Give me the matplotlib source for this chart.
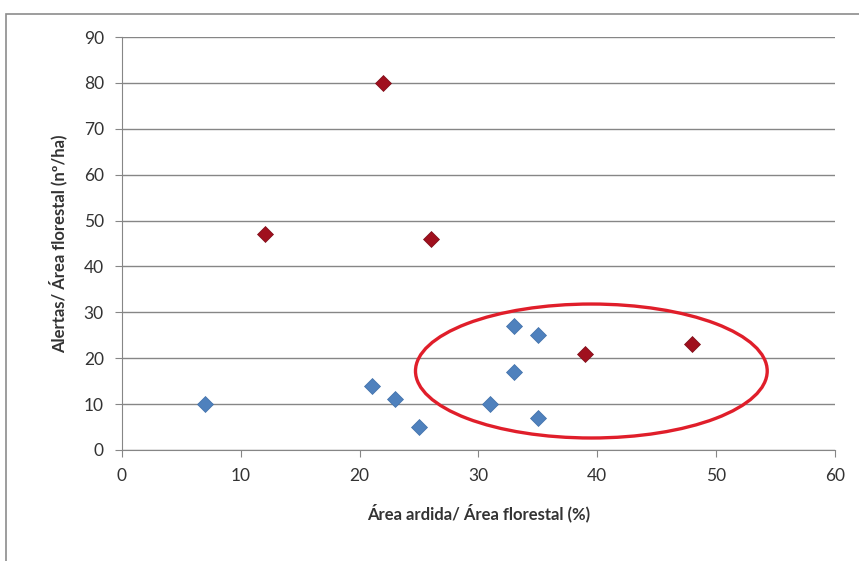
import matplotlib.pyplot as plt
from matplotlib.patches import Ellipse, Rectangle

# blue series
blue_x = [7, 21, 23, 25, 31, 33, 33, 35, 35]
blue_y = [10, 14, 11, 5, 10, 27, 17, 25, 7]

# dark red series
red_x = [12, 22, 26, 39, 48]
red_y = [47, 80, 46, 21, 23]

x_ticks = [0, 10, 20, 30, 40, 50, 60]
y_ticks = [0, 10, 20, 30, 40, 50, 60, 70, 80, 90]


def main():
    plt.rcParams["font.family"] = ["Lato", "DejaVu Sans"]

    fig = plt.figure(figsize=(8.59, 5.61), dpi=100)
    ax = fig.add_axes([0.142, 0.198, 0.830, 0.736])

    # outer chart frame (runs off the right and bottom edges)
    fig.patches.append(Rectangle((6 / 859, -0.1), 1.2, 1.1 - 14 / 561,
                                 transform=fig.transFigure, fill=False,
                                 edgecolor="#8c8c8c", linewidth=1.2))

    ax.plot(blue_x, blue_y, linestyle="none", marker="D", markersize=8.5,
            color="#4F81BD", markeredgecolor="#3f6fa8", markeredgewidth=0.5,
            zorder=3)
    ax.plot(red_x, red_y, linestyle="none", marker="D", markersize=8.5,
            color="#A0101E", markeredgecolor="#7a0c17", markeredgewidth=0.5,
            zorder=3)

    # highlight ellipse
    ax.add_patch(Ellipse((39.5, 17.2), 29.6, 29.2, fill=False,
                         edgecolor="#E01E2A", linewidth=2.4, zorder=4))

    ax.set_xlim(0, 60)
    ax.set_ylim(0, 90)
    ax.set_xticks(x_ticks)
    ax.set_yticks(y_ticks)
    ax.yaxis.grid(True, color="#868686", linewidth=1.0)
    ax.set_axisbelow(True)

    for side in ["top", "right"]:
        ax.spines[side].set_visible(False)
    for side in ["left", "bottom"]:
        ax.spines[side].set_color("#868686")
    ax.tick_params(axis="both", colors="#868686", labelcolor="#333333",
                   labelsize=12.5, length=5, direction="out")
    ax.tick_params(axis="x", pad=8)
    ax.tick_params(axis="y", pad=8)

    ax.set_xlabel("Área ardida/ Área florestal (%)", fontsize=12,
                  fontweight="bold", color="#333333", labelpad=14)
    ax.set_ylabel("Alertas/ Área florestal (nº/ha)", fontsize=12,
                  fontweight="bold", color="#333333", labelpad=12)

    fig.savefig("out.png", dpi=100)


if __name__ == "__main__":
    main()
